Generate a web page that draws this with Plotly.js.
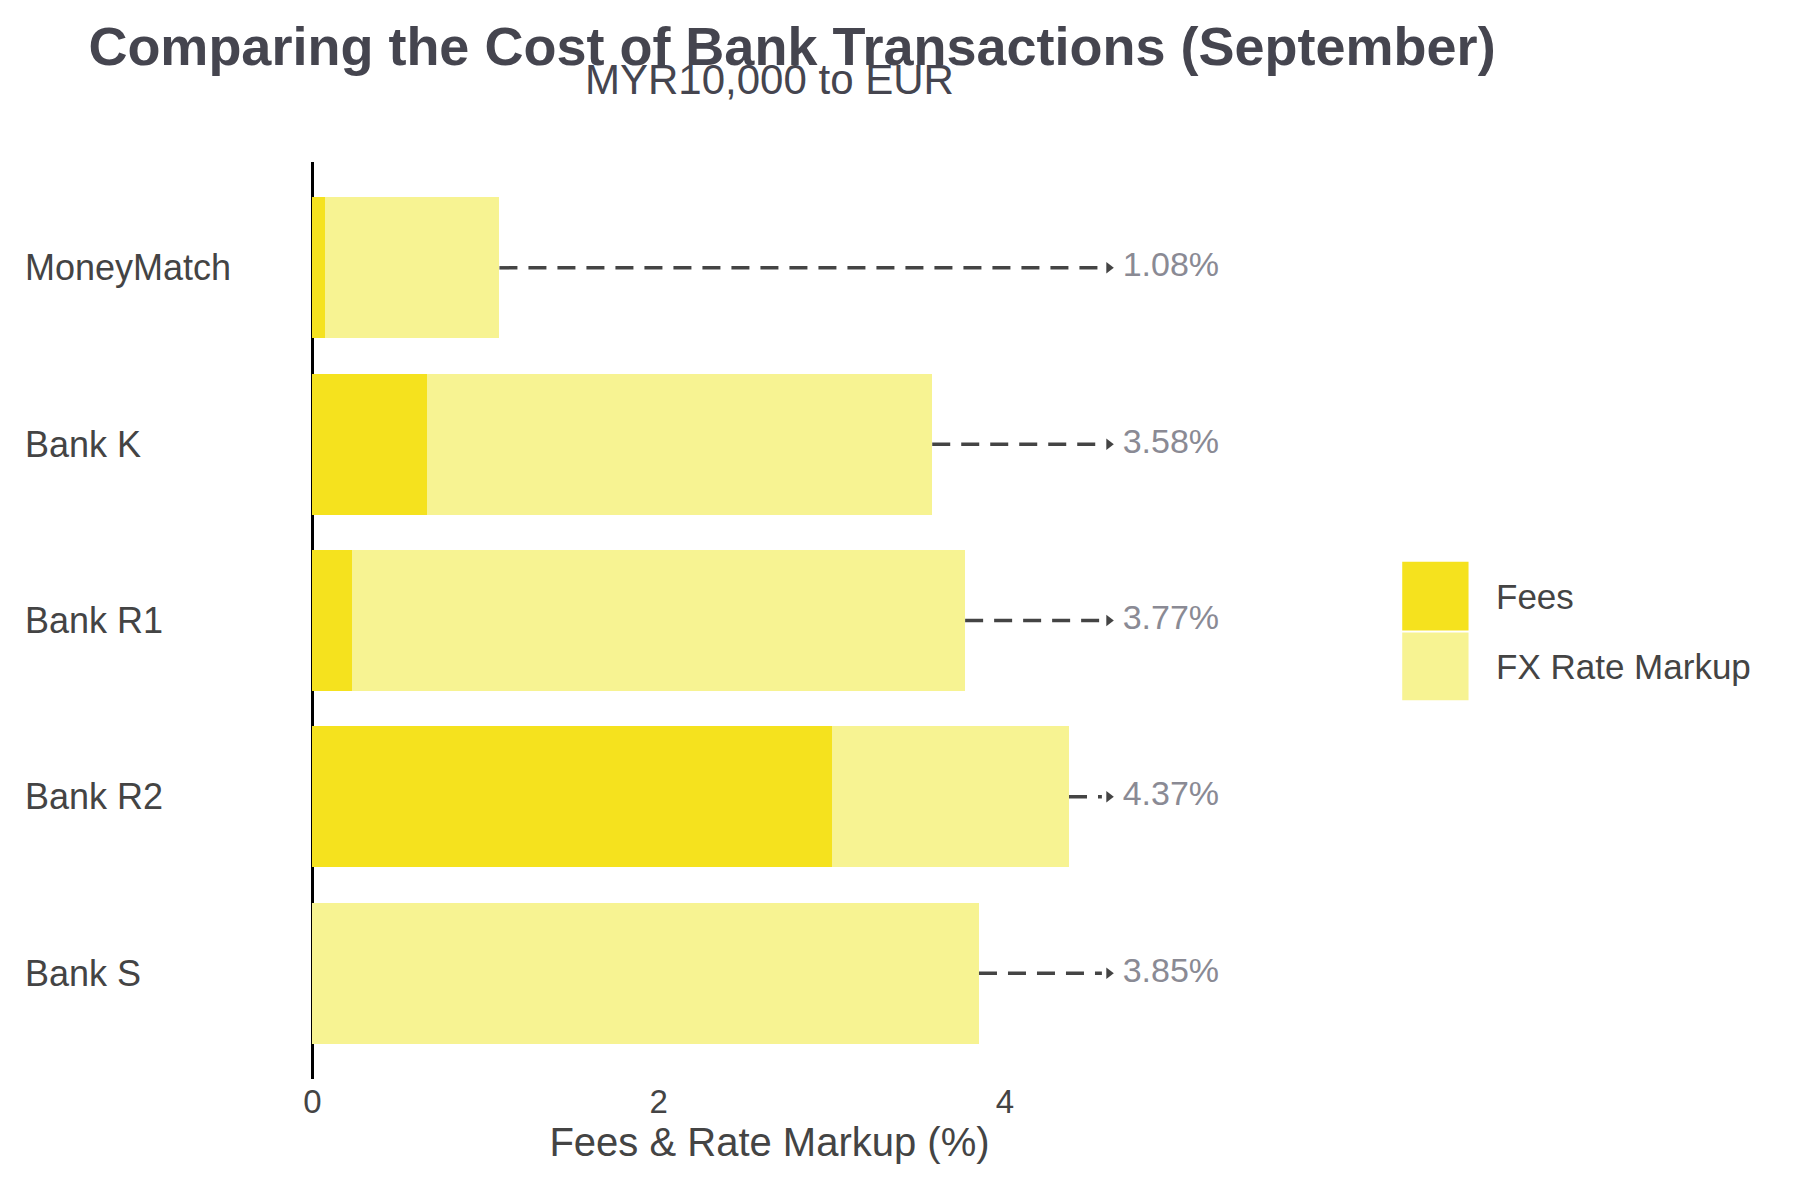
<!DOCTYPE html>
<html><head><meta charset="utf-8">
<script src="https://cdn.plot.ly/plotly-3.0.1.min.js"></script>
<style>body{margin:0}</style></head>
<body><div id="chart" style="width:1800px;height:1200px"></div>
<script>
var banks = ["MoneyMatch", "Bank K", "Bank R1", "Bank R2", "Bank S"];
var fees = [0.07, 0.66, 0.23, 3.0, 0];
var markup = [1.01, 2.92, 3.54, 1.37, 3.85];
var totalLabels = ["1.08%", "3.58%", "3.77%", "4.37%", "3.85%"];
var legendNames = ["Fees", "FX Rate Markup"];
var colors = ["#f5e21e", "#f7f392"];
var arrowEnd = 4.6;
var labelX = 4.68;

var totals = fees.map(function (f, i) { return f + markup[i]; });

var traces = [
  {type: "bar", orientation: "h", name: legendNames[0], y: banks, x: fees,
   marker: {color: colors[0]}, hoverinfo: "x+y"},
  {type: "bar", orientation: "h", name: legendNames[1], y: banks, x: markup,
   marker: {color: colors[1]}, hoverinfo: "x+y"},
  {type: "scatter", mode: "markers", x: banks.map(function () { return arrowEnd; }), y: banks,
   marker: {symbol: "triangle-right", size: 10, color: "#444"}, showlegend: false, hoverinfo: "skip"},
  {type: "scatter", mode: "text", x: banks.map(function () { return labelX; }), y: banks,
   text: totalLabels, textposition: "middle right", textfont: {size: 34, color: "#8a8a94"},
   showlegend: false, hoverinfo: "skip", cliponaxis: false}
];

var shapes = banks.map(function (b, i) {
  return {type: "line", xref: "x", yref: "y", x0: totals[i], x1: arrowEnd - 0.04, y0: b, y1: b,
          line: {color: "#444", width: 3.5, dash: "18px,11px"}};
});

// legend with large square swatches
var swatchY = [[0.489, 0.564], [0.413, 0.487]];
var annotations = [{text: "MYR10,000 to EUR", xref: "paper", yref: "paper", x: 0.5, y: 1.09,
                    yanchor: "middle", showarrow: false, font: {size: 42, color: "#45454f"}}];
legendNames.forEach(function (n, i) {
  shapes.push({type: "rect", xref: "paper", yref: "paper", x0: 1.187, x1: 1.259,
               y0: swatchY[i][0], y1: swatchY[i][1], fillcolor: colors[i], line: {width: 0}});
  annotations.push({text: n, xref: "paper", yref: "paper", x: 1.287,
                    y: (swatchY[i][0] + swatchY[i][1]) / 2, xanchor: "left", yanchor: "middle",
                    showarrow: false, font: {size: 35, color: "#444"}});
});
banks.forEach(function (b) {
  annotations.push({text: b, xref: "paper", yref: "y", x: -0.311, y: b, xanchor: "left",
                    yanchor: "middle", showarrow: false, font: {size: 36, color: "#444"}});
});

var layout = {
  barmode: "stack",
  bargap: 0.2,
  font: {family: "Liberation Sans, Arial, sans-serif", color: "#444", size: 33},
  title: {text: "<b>Comparing the Cost of Bank Transactions (September)</b>", x: 0.44,
          y: 0.962, yanchor: "middle", font: {size: 54, color: "#45454f"}},
  annotations: annotations,
  margin: {l: 309, r: 570, t: 162, b: 121},
  xaxis: {range: [-0.02, 5.3], showgrid: false, zeroline: true, zerolinecolor: "#000",
          zerolinewidth: 3, tickvals: [0, 2, 4], showline: false,
          title: {text: "Fees & Rate Markup (%)", font: {size: 40}, standoff: 6}},
  yaxis: {range: [4.6, -0.6], showgrid: false, zeroline: false, showticklabels: false},
  shapes: shapes,
  plot_bgcolor: "white", paper_bgcolor: "white", showlegend: false
};

Plotly.newPlot("chart", traces, layout, {displayModeBar: false});
</script></body></html>
